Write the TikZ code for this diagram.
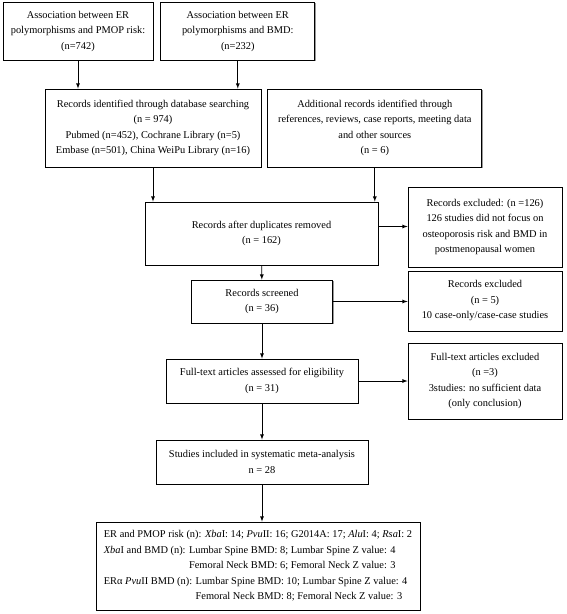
\documentclass[tikz,border=0pt]{standalone}
\usepackage{fontspec}
\setmainfont{Liberation Serif}
\usetikzlibrary{positioning, shadows}

\begin{document}
\begin{tikzpicture}[x=1pt, y=-1pt, node distance=6pt and 7pt,
		box/.style={draw, fill=white, align=center, inner sep=3pt, line width=0.8pt,
			font=\fontsize{10.4}{15.5}\selectfont,
			drop shadow={shadow xshift=1.2pt, shadow yshift=-1.2pt, fill=black!40, opacity=1}},
		arr/.style={-latex, line width=0.8pt}]
		\useasboundingbox (0,0) rectangle (567,614);
		\node[box, minimum width=150pt, minimum height=58pt] (assocpmop) at (78,31)
			{Association between ER\\polymorphisms and PMOP risk:\\(n=742)};
		\node[box, minimum width=154pt, minimum height=58pt, right=7pt of assocpmop] (assocbmd)
			{Association between ER\\polymorphisms and BMD:\\(n=232)};
		\node[box, minimum width=216pt, minimum height=78pt] (ident) at (153,128)
			{Records identified through database searching\\(n = 974)\\Pubmed (n=452), Cochrane Library (n=5)\\Embase (n=501), China WeiPu Library (n=16)};
		\node[box, minimum width=214pt, minimum height=78pt, right=6pt of ident] (adic)
			{Additional records identified through\\references, reviews, case reports, meeting data\\and other sources\\(n = 6)};
		\node[box, minimum width=233pt, minimum height=63pt] (dupl) at (261.5,233.5)
			{Records after duplicates removed\\(n = 162)};
		\node[box, minimum width=154pt, minimum height=80pt] (excla) at (485,227)
			{Records excluded: (n =126)\\126 studies did not focus on\\osteoporosis risk and BMD in\\postmenopausal women};
		\node[box, minimum width=141pt, minimum height=43pt] (screen) at (262,301.5)
			{Records screened\\(n = 36)};
		\node[box, minimum width=154pt, minimum height=60pt] (exclb) at (485,301)
			{Records excluded\\(n = 5)\\10 case-only/case-case studies};
		\node[box, minimum width=192pt, minimum height=44pt] (fulltext) at (262,381)
			{Full-text articles assessed for eligibility\\(n = 31)};
		\node[box, minimum width=154pt, minimum height=76pt] (exclc) at (485,381)
			{Full-text articles excluded\\(n =3)\\3studies: no sufficient data\\(only conclusion)};
		\node[box, minimum width=212pt, minimum height=44pt] (incl) at (262,462)
			{Studies included in systematic meta-analysis\\n = 28};
		\node[box, minimum width=324pt, minimum height=88pt, align=left] (result) at (258,566)
			{ER and PMOP risk (n): \textit{Xba}I: 14; \textit{Pvu}II: 16; G2014A: 17; \textit{Alu}I: 4; \textit{Rsa}I: 2\\
			\textit{Xba}I and BMD (n): Lumbar Spine BMD: 8; Lumbar Spine Z value: 4\\
			\hphantom{\textit{Xba}I and BMD (n): }Femoral Neck BMD: 6; Femoral Neck Z value: 3\\
			ERα \textit{Pvu}II BMD (n): Lumbar Spine BMD: 10; Lumbar Spine Z value: 4\\
			\hphantom{ERα \textit{Pvu}II BMD (n): }Femoral Neck BMD: 8; Femoral Neck Z value: 3};
		% vertical flow
		\draw[arr] (assocpmop.south) -- (assocpmop.south |- ident.north);
		\draw[arr] (assocbmd.south) -- (assocbmd.south |- ident.north);
		\draw[arr] (ident.south) -- (ident.south |- dupl.north);
		\draw[arr] (adic.south) -- (adic.south |- dupl.north);
		\draw[arr] (dupl) -- (screen);
		\draw[arr] (screen) -- (fulltext);
		\draw[arr] (fulltext) -- (incl);
		\draw[arr] (incl.south) -- (incl.south |- result.north);
		% exclusions
		\draw[arr] ([yshift=7pt]dupl.east) -- ([yshift=7pt]dupl.east -| excla.west);
		\draw[arr] (screen.east) -- (screen.east -| exclb.west);
		\draw[arr] (fulltext.east) -- (fulltext.east -| exclc.west);
\end{tikzpicture}
\end{document}
